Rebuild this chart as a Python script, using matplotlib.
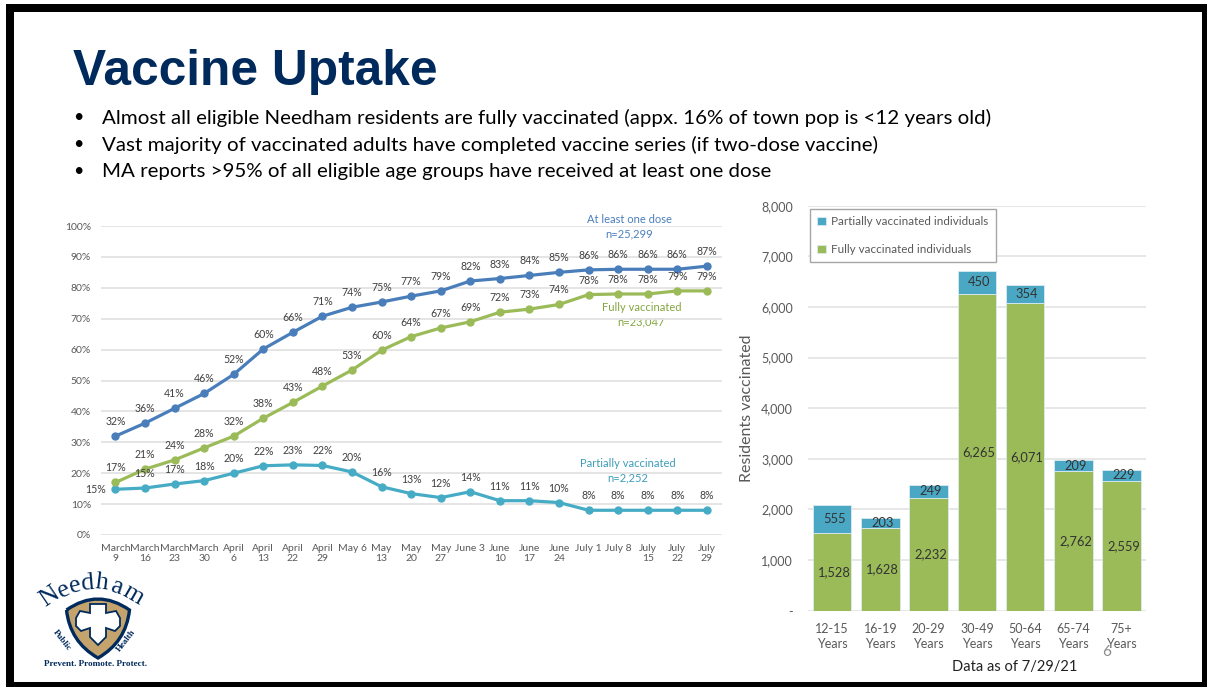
import matplotlib
matplotlib.use("Agg")
import matplotlib.pyplot as plt
from matplotlib.patches import PathPatch, Rectangle
from matplotlib.path import Path
import numpy as np

W, H = 1207, 687

# line chart data
dates = ["March\n9", "March\n16", "March\n23", "March\n30", "April\n6", "April\n13", "April\n22",
         "April\n29", "May 6", "May\n13", "May\n20", "May\n27", "June 3", "June\n10", "June\n17",
         "June\n24", "July 1", "July 8", "July\n15", "July\n22", "July\n29"]
one_dose = [32, 36.2, 41, 45.8, 52, 60.2, 65.6, 70.8, 73.7, 75.4, 77.3, 79, 82.2, 83, 84, 85, 85.8, 86, 86, 86, 87]
fully = [17, 21.3, 24.3, 28.2, 32, 37.8, 42.9, 48.2, 53.4, 59.8, 64.2, 67, 69, 72.1, 73.1, 74.6, 77.8, 78, 78, 79, 79]
partial = [14.8, 15.2, 16.5, 17.6, 20, 22.4, 22.7, 22.5, 20.4, 15.6, 13.4, 12.1, 14, 11.1, 11.1, 10.5, 8, 8, 8, 8, 8]
one_dose_labels = [32, 36, 41, 46, 52, 60, 66, 71, 74, 75, 77, 79, 82, 83, 84, 85, 86, 86, 86, 86, 87]
fully_labels = [17, 21, 24, 28, 32, 38, 43, 48, 53, 60, 64, 67, 69, 72, 73, 74, 78, 78, 78, 79, 79]
partial_labels = [15, 15, 17, 18, 20, 22, 23, 22, 20, 16, 13, 12, 14, 11, 11, 10, 8, 8, 8, 8, 8]

# bar chart data
age_groups = ["12-15\nYears", "16-19\nYears", "20-29\nYears", "30-49\nYears", "50-64\nYears", "65-74\nYears", "75+\nYears"]
fully_counts = [1528, 1628, 2232, 6265, 6071, 2762, 2559]
partial_counts = [555, 203, 249, 450, 354, 209, 229]

bullets = [
    "Almost all eligible Needham residents are fully vaccinated (appx. 16% of town pop is <12 years old)",
    "Vast majority of vaccinated adults have completed vaccine series (if two-dose vaccine)",
    "MA reports >95% of all eligible age groups have received at least one dose",
]

NAVY = "#002A5C"
BLUE = "#4A7EBB"
GREEN = "#9BBB59"
TEAL = "#46ACC6"
GRID = "#E3E3E3"
TICK = "#595959"
LABEL = "#404040"

plt.rcParams["font.family"] = ["Lato", "DejaVu Sans"]


def px_axes(fig, left, top, right, bottom):
    return fig.add_axes([left / W, 1 - bottom / H, (right - left) / W, (bottom - top) / H])


fig = plt.figure(figsize=(W / 100, H / 100), dpi=100)

# slide background drawn in pixel coordinates
bg = fig.add_axes([0, 0, 1, 1], zorder=0)
bg.set_xlim(0, W)
bg.set_ylim(H, 0)
bg.axis("off")
bg.add_patch(Rectangle((6, 4), W - 6, H - 4, fc="black", ec="none"))
bg.add_patch(Rectangle((14, 12), 1188, 670, fc="white", ec="none"))

bg.text(73, 72, "Vaccine Uptake", family="Liberation Sans", weight="bold", fontsize=35.7,
        color=NAVY, va="center", ha="left")
for y, line in zip([118, 145, 172], bullets):
    bg.text(78, y - 1, "•", fontsize=13, color="black", va="center", ha="center")
    bg.text(102, y, line, fontsize=14.75, color="black", va="center", ha="left")

# line chart
ax = px_axes(fig, 100.7, 226, 721.7, 535)
ax.set_facecolor("none")
xs = np.arange(len(dates))
for vals, color, labels in [(partial, TEAL, partial_labels), (fully, GREEN, fully_labels), (one_dose, BLUE, one_dose_labels)]:
    ax.plot(xs, vals, color=color, lw=2.3, marker="o", ms=5, zorder=3, clip_on=False)
    for i, (v, lab) in enumerate(zip(vals, labels)):
        off = (0, 14.5)
        if vals is partial and i == 0:
            off = (-20, 0)
        ax.annotate(f"{lab}%", (i, v), xytext=(off[0] * 0.72, off[1] * 0.72), textcoords="offset points",
                    ha="center", va="center", fontsize=7.6, color=LABEL, zorder=4)
ax.set_xlim(-0.5, len(dates) - 0.5)
ax.set_ylim(0, 100)
ax.set_yticks(range(0, 101, 10))
ax.set_yticklabels([f"{v}%" for v in range(0, 101, 10)])
ax.set_xticks(xs)
ax.set_xticklabels(dates, linespacing=1.2)
ax.tick_params(axis="both", length=0, labelsize=7.5, labelcolor=TICK)
ax.tick_params(axis="y", pad=7)
ax.tick_params(axis="x", pad=6.5)
ax.grid(axis="y", color=GRID, lw=1.3)
ax.set_axisbelow(True)
for s in ax.spines.values():
    s.set_visible(False)

bg.text(629, 227, "At least one dose\nn=25,299", color=BLUE, fontsize=8, ha="center", va="center", linespacing=1.35, zorder=5)
bg.text(641.5, 314.5, "Fully vaccinated\nn=23,047", color="#84A53F", fontsize=8, ha="center", va="center", linespacing=1.35, zorder=5)
bg.text(628, 471, "Partially vaccinated\nn=2,252", color="#3D9DB8", fontsize=8, ha="center", va="center", linespacing=1.35, zorder=5)

# stacked bars
ax2 = px_axes(fig, 808, 205.7, 1145.7, 610.7)
ax2.set_facecolor("none")
xb = np.arange(len(age_groups))
b1 = ax2.bar(xb, fully_counts, width=0.8, color=GREEN, edgecolor="#DCEBF0", lw=0.6, label="Fully vaccinated individuals", zorder=2)
b2 = ax2.bar(xb, partial_counts, width=0.8, bottom=fully_counts, color="#4BA8C4", edgecolor="#DCEBF0", lw=0.6,
             label="Partially vaccinated individuals", zorder=2)
for i in xb:
    ax2.annotate(f"{fully_counts[i]:,}", (i, fully_counts[i] / 2), xytext=(1.5, 0), textcoords="offset points",
                 ha="center", va="center", fontsize=9.3, color="#333333", zorder=3)
    ax2.annotate(f"{partial_counts[i]:,}", (i, fully_counts[i] + partial_counts[i] / 2), xytext=(1.5, 0),
                 textcoords="offset points", ha="center", va="center", fontsize=9.3, color="#333333", zorder=3)
ax2.set_xlim(-0.5, len(age_groups) - 0.5)
ax2.set_ylim(0, 8000)
ax2.set_yticks(range(0, 8001, 1000))
ax2.set_yticklabels(["-"] + [f"{v:,}" for v in range(1000, 8001, 1000)])
ax2.set_xticks(xb)
ax2.set_xticklabels(age_groups, linespacing=1.3)
ax2.tick_params(axis="both", length=0, labelsize=9, labelcolor=TICK)
ax2.tick_params(axis="y", pad=11)
ax2.tick_params(axis="x", pad=9)
ax2.grid(axis="y", color=GRID, lw=1.2)
ax2.set_axisbelow(True)
for s in ax2.spines.values():
    s.set_visible(False)
leg = ax2.legend(handles=[b2, b1], loc="upper left", bbox_to_anchor=(0.006, 0.992), fontsize=8.35, frameon=True,
                 fancybox=False, framealpha=1, edgecolor="#A6A6A6", labelcolor=TICK, handlelength=0.75,
                 handleheight=0.75, handletextpad=0.5, labelspacing=1.5, borderpad=0.6, borderaxespad=0)
leg.get_frame().set_linewidth(1.0)
leg.set_zorder(6)

bg.text(747, 408, "Residents vaccinated", rotation=90, fontsize=11.5, color=TICK, ha="center", va="center")
bg.text(1015, 667, "Data as of 7/29/21", fontsize=10.5, color="#222222", ha="center", va="center")
over = fig.add_axes([0, 0, 1, 1], zorder=5)
over.set_xlim(0, W)
over.set_ylim(H, 0)
over.axis("off")
over.patch.set_visible(False)
over.text(1106.5, 652, "6", fontsize=11, color="#8A8A8A", ha="center", va="center")

# Needham logo
shield = Path([(66.5, 610), (98, 588), (129.5, 610), (126, 642), (98, 658), (70, 642), (66.5, 610)],
              [Path.MOVETO, Path.CURVE3, Path.CURVE3, Path.CURVE3, Path.CURVE3, Path.CURVE3, Path.CURVE3])
over.add_patch(PathPatch(shield, fc="#C4A36C", ec=NAVY, lw=2.4))
cross = [(90, 604), (106, 604), (106, 613), (116, 611), (120, 618), (120, 626), (115, 631), (106, 628), (106, 637),
         (98, 645), (90, 637), (90, 628), (81, 631), (76, 626), (76, 618), (80, 611), (90, 613)]
over.fill(*zip(*cross), fc="white", ec=NAVY, lw=1.3)
needham = [("N", 50, 597, 34), ("e", 64, 590, 24), ("e", 75, 586, 14), ("d", 87, 583, 5),
           ("h", 102, 583, -7), ("a", 116, 587, -18), ("m", 133, 595, -30)]
for ch, x, y, rot in needham:
    over.text(x, y, ch, family="Liberation Serif", fontsize=18.5, color=NAVY, rotation=rot,
              rotation_mode="anchor", ha="center", va="center")
over.text(62, 640, "Public", family="Liberation Serif", weight="bold", fontsize=6.5, color=NAVY, rotation=-52,
          ha="center", va="center")
over.text(126, 641, "Health", family="Liberation Serif", weight="bold", fontsize=6.5, color=NAVY, rotation=52,
          ha="center", va="center")
over.text(95, 664, "Prevent. Promote. Protect.", family="Liberation Serif", weight="bold", fontsize=6.6, color=NAVY,
          ha="center", va="center")

fig.savefig("out.png", dpi=100)
